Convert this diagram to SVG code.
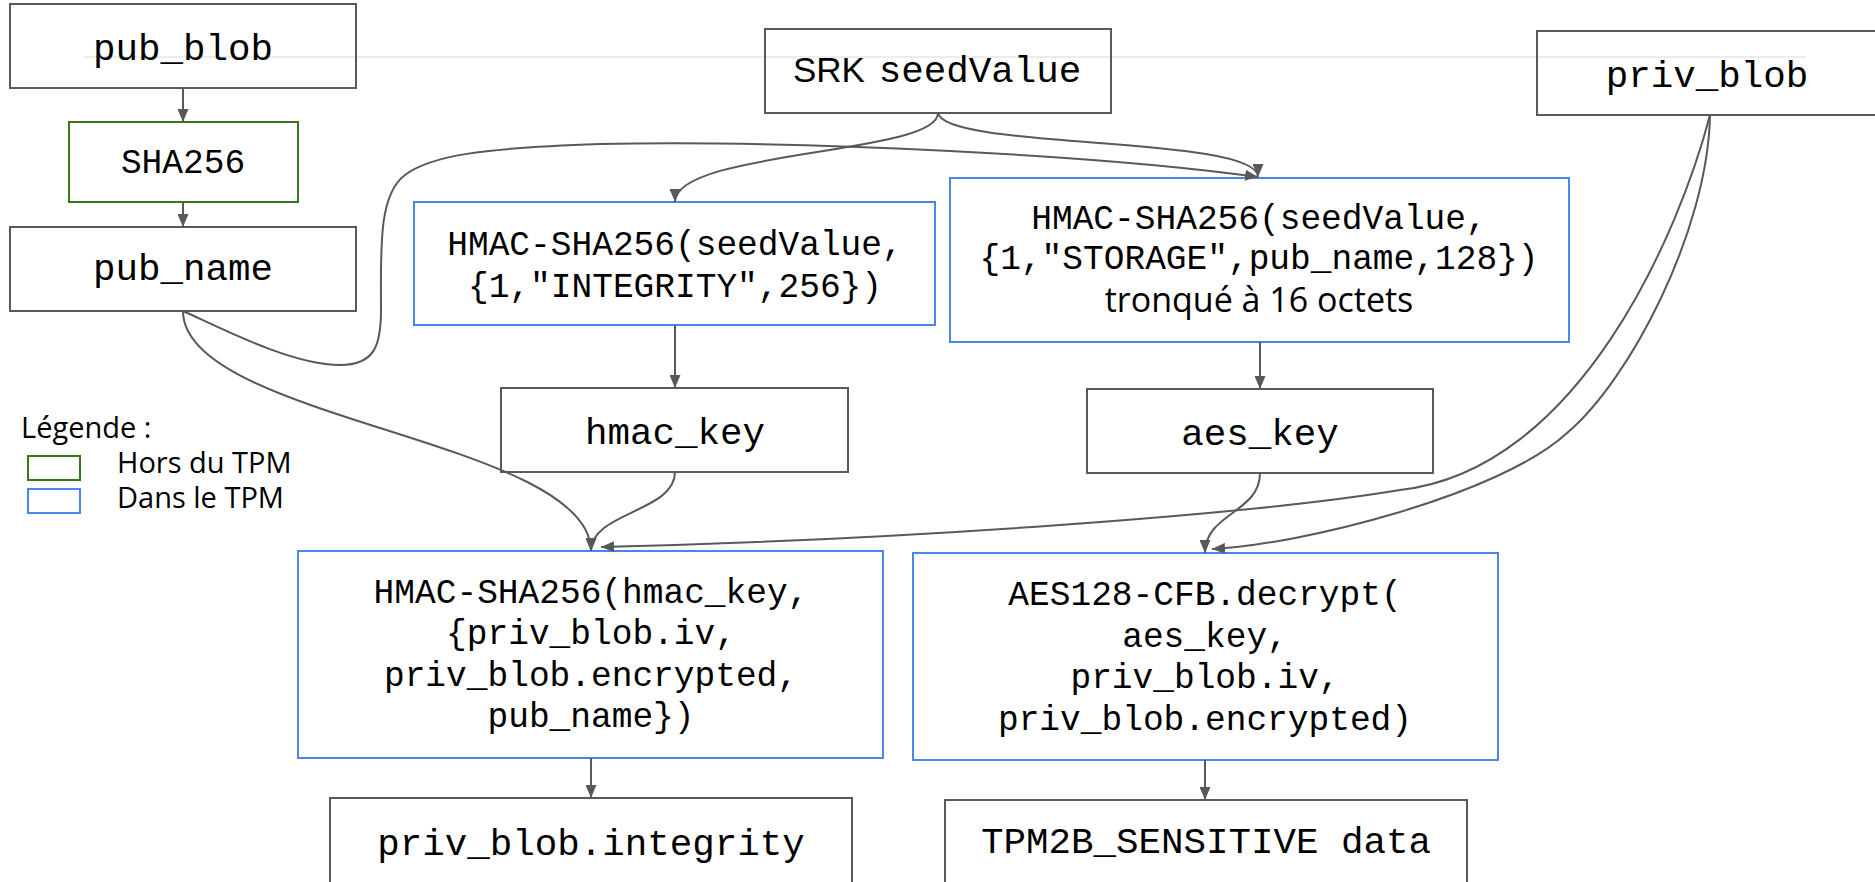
<svg xmlns="http://www.w3.org/2000/svg" width="1875" height="882" viewBox="0 0 1875 882">
  <style>
    .box { fill: none; stroke: #595959; stroke-width: 2; }
    .out { fill: none; stroke: #38761d; stroke-width: 2; }
    .tpm { fill: none; stroke: #4a86e8; stroke-width: 2; }
    .mono { font-family: "Liberation Mono", "Courier New", monospace; fill: #000; text-anchor: middle; }
    .big { font-size: 37.5px; }
    .small { font-size: 34.5px; }
    .sans { font-family: "Open Sans", "Noto Sans", sans-serif; fill: #000; }
    .arial { font-family: "Liberation Sans", Arial, sans-serif; font-size: 35px; }
    .edge { fill: none; stroke: #595959; stroke-width: 2; }
  </style>
  <defs>
    <marker id="arrow" markerUnits="userSpaceOnUse" markerWidth="13" markerHeight="11" refX="13" refY="5.5" orient="auto">
      <path d="M0,0 L13,5.5 L0,11 z" fill="#595959"/>
    </marker>
  </defs>

  <rect width="1875" height="882" fill="#ffffff"/>

  <!-- faint rule across the top of the slide -->
  <line x1="84" y1="57" x2="1806" y2="57" stroke="#ececec" stroke-width="2"/>

  <g id="pub_blob">
    <rect class="box" x="10" y="4" width="346" height="84"/>
    <text class="mono big" x="183" y="60">pub_blob</text>
  </g>
  <g id="sha256">
    <rect class="out" x="69" y="122" width="229" height="80"/>
    <text class="mono" font-size="34.5" x="183" y="173">SHA256</text>
  </g>
  <g id="pub_name">
    <rect class="box" x="10" y="227" width="346" height="84"/>
    <text class="mono big" x="183" y="280">pub_name</text>
  </g>
  <g id="srk_seed">
    <rect class="box" x="765" y="29" width="346" height="84"/>
    <text class="arial" x="793" y="82">SRK</text>
    <text class="mono big" x="980" y="82">seedValue</text>
  </g>
  <g id="priv_blob">
    <rect class="box" x="1537" y="31" width="345" height="84"/>
    <text class="mono big" x="1707" y="87">priv_blob</text>
  </g>
  <g id="hmac_integrity">
    <rect class="tpm" x="414" y="202" width="521" height="123"/>
    <text class="mono small" x="675" y="255">HMAC-SHA256(seedValue,</text>
    <text class="mono small" x="675" y="297">{1,"INTEGRITY",256})</text>
  </g>
  <g id="hmac_storage">
    <rect class="tpm" x="950" y="178" width="619" height="164"/>
    <text class="mono small" x="1259" y="229">HMAC-SHA256(seedValue,</text>
    <text class="mono small" x="1259" y="269">{1,"STORAGE",pub_name,128})</text>
    <text class="sans" font-size="34" text-anchor="middle" x="1259" y="312">tronqué à 16 octets</text>
  </g>
  <g id="hmac_key">
    <rect class="box" x="501" y="388" width="347" height="84"/>
    <text class="mono big" x="675" y="444">hmac_key</text>
  </g>
  <g id="aes_key">
    <rect class="box" x="1087" y="389" width="346" height="84"/>
    <text class="mono big" x="1260" y="445">aes_key</text>
  </g>
  <g id="hmac_check">
    <rect class="tpm" x="298" y="551" width="585" height="207"/>
    <text class="mono small" x="591" y="603">HMAC-SHA256(hmac_key,</text>
    <text class="mono small" x="591" y="644">{priv_blob.iv,</text>
    <text class="mono small" x="591" y="686">priv_blob.encrypted,</text>
    <text class="mono small" x="591" y="727">pub_name})</text>
  </g>
  <g id="aes_decrypt">
    <rect class="tpm" x="913" y="553" width="585" height="207"/>
    <text class="mono small" x="1205" y="605">AES128-CFB.decrypt(</text>
    <text class="mono small" x="1205" y="647">aes_key,</text>
    <text class="mono small" x="1205" y="688">priv_blob.iv,</text>
    <text class="mono small" x="1205" y="730">priv_blob.encrypted)</text>
  </g>
  <g id="integrity">
    <rect class="box" x="330" y="798" width="522" height="90"/>
    <text class="mono big" x="591" y="855">priv_blob.integrity</text>
  </g>
  <g id="sensitive">
    <rect class="box" x="945" y="800" width="522" height="90"/>
    <text class="mono big" x="1206" y="853">TPM2B_SENSITIVE data</text>
  </g>

  <g id="legend">
    <text class="sans" font-size="29" x="21" y="438">Légende :</text>
    <rect class="out" x="28" y="456" width="52" height="24"/>
    <text class="sans" font-size="29" x="117" y="473">Hors du TPM</text>
    <rect class="tpm" x="28" y="489" width="52" height="24"/>
    <text class="sans" font-size="29" x="117" y="508">Dans le TPM</text>
  </g>

  <g id="connectors">
    <path class="edge" d="M183,88 L183,122" marker-end="url(#arrow)"/>
    <path class="edge" d="M183,202 L183,227" marker-end="url(#arrow)"/>
    <path class="edge" d="M938,113 C938,155 675,150 675,202" marker-end="url(#arrow)"/>
    <path class="edge" d="M938,113 C945,150 1258,135 1258,177" marker-end="url(#arrow)"/>
    <path class="edge" d="M183,311 C215,325 290,365 340,365 C375,365 381,345 381,310 C381,250 378,195 405,175 C430,156 480,148 600,144 C800,140 1100,155 1258,177" marker-end="url(#arrow)"/>
    <path class="edge" d="M183,311 C183,420 591,440 591,551" marker-end="url(#arrow)"/>
    <path class="edge" d="M675,325 L675,388" marker-end="url(#arrow)"/>
    <path class="edge" d="M1260,342 L1260,389" marker-end="url(#arrow)"/>
    <path class="edge" d="M675,472 C675,512 591,512 591,551" marker-end="url(#arrow)"/>
    <path class="edge" d="M1260,473 C1260,513 1205,513 1205,553" marker-end="url(#arrow)"/>
    <path class="edge" d="M1710,115 C1680,230 1580,470 1400,490 C1250,515 900,540 601,547" marker-end="url(#arrow)"/>
    <path class="edge" d="M1710,115 C1708,230 1630,380 1567,433 C1500,495 1300,545 1212,549" marker-end="url(#arrow)"/>
    <path class="edge" d="M591,758 L591,798" marker-end="url(#arrow)"/>
    <path class="edge" d="M1205,760 L1205,800" marker-end="url(#arrow)"/>
  </g>
</svg>
